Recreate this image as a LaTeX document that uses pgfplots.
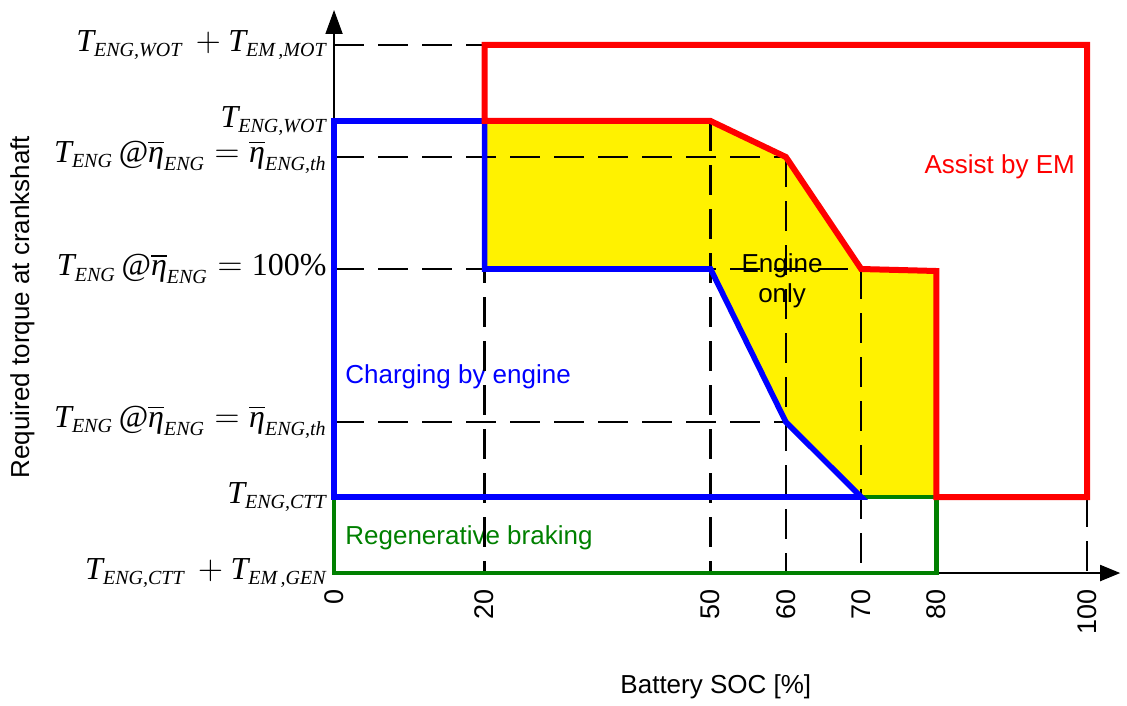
\documentclass[border=0pt]{standalone}
\usepackage{fontspec}
\setmainfont{Liberation Sans}
\newfontfamily\tnr{Liberation Serif}
\usepackage{amsmath}
\usepackage{pgfplots}
\pgfplotsset{compat=1.18}
\usetikzlibrary{arrows.meta}
\newcommand{\ti}[1]{\textit{#1}}
\newcommand{\sub}[1]{\text{\fontsize{10}{11}\selectfont\itshape #1}}
\definecolor{rgreen}{RGB}{0,128,0}
\begin{document}
\begin{tikzpicture}
\begin{axis}[
  x=3.765pt, y=0.5pt,
  xmin=0, xmax=104.4, ymin=0, ymax=563,
  axis lines=left,
  every outer x axis line/.append style={line width=0.9pt, -{Triangle[length=10pt,width=8pt]}},
  every outer y axis line/.append style={line width=0.9pt, -{Triangle[length=12pt,width=8.5pt]}},
  xtick={0,20,50,60,70,80,100},
  ytick={0,76,151,304,416,452,528},
  yticklabels={
    {$\ti{T}_{\sub{ENG,CTT}}\,+\ti{T}_{\sub{EM\,,GEN}}$},
    {$\ti{T}_{\sub{ENG,CTT}}$},
    {$\ti{T}_{\sub{ENG}}\,\text{@}\overline{\ti{η}}_{\sub{ENG}}=\overline{\ti{η}}_{\sub{ENG,th}}$},
    {$\ti{T}_{\sub{ENG}}\,\text{@}\overline{\ti{η}}_{\sub{ENG}}=\text{100\%}$},
    {$\ti{T}_{\sub{ENG}}\,\text{@}\overline{\ti{η}}_{\sub{ENG}}=\overline{\ti{η}}_{\sub{ENG,th}}$},
    {$\ti{T}_{\sub{ENG,WOT}}$},
    {$\ti{T}_{\sub{ENG,WOT}}\,+\ti{T}_{\sub{EM\,,MOT}}$}
  },
  major tick length=0pt,
  tick style={draw=none},
  xticklabel style={rotate=90, anchor=east, inner sep=0pt, font=\fontsize{13.5}{15}\selectfont},
  xticklabel shift=8pt,
  yticklabel style={anchor=east, inner sep=0pt, font=\fontsize{16}{18}\selectfont\tnr},
  yticklabel shift=3.5pt,
  /pgf/number format/assume math mode=true,
  clip=false,
  xlabel={Battery SOC [\%]},
  ylabel={Required torque at crankshaft},
  every axis x label/.style={at={(axis cs:50.7,-114)}, anchor=center, font=\fontsize{13}{15}\selectfont},
  every axis y label/.style={at={(axis cs:-41.4,266)}, rotate=90, anchor=center, font=\fontsize{13}{15}\selectfont},
]
% bounding box matching reference
\path (axis cs:-44.36,573) rectangle (axis cs:105.3,-131);

% engine-only region
\addplot[fill=yellow, draw=none] coordinates {(20,452) (50,452) (60,416) (70,304) (80,302) (80,76) (70,76) (60,151) (50,304) (20,304)} -- cycle;

% region labels
\node[text=red, font=\fontsize{13}{15}\selectfont] at (axis cs:88.4,406) {Assist by EM};
\node[text=black, align=center, font=\fontsize{13}{15}\selectfont] at (axis cs:59.5,292) {Engine\\only};
\node[text=blue, anchor=west, inner sep=0pt, font=\fontsize{13}{15}\selectfont] at (axis cs:1.45,196) {Charging by engine};
\node[text=rgreen, anchor=west, inner sep=0pt, font=\fontsize{13}{15}\selectfont] at (axis cs:1.45,35) {Regenerative braking};

% dashed guide lines
\pgfplotsset{guide/.style={black, line width=1.2pt, dash pattern=on 15pt off 7pt, mark=none}}
\addplot[guide] coordinates {(0,528) (20,528)};
\addplot[guide] coordinates {(0,416) (60,416)};
\addplot[guide] coordinates {(0,304) (70,304)};
\addplot[guide] coordinates {(0,151) (60,151)};
\addplot[guide] coordinates {(20,452) (20,0)};
\addplot[guide] coordinates {(50,452) (50,0)};
\addplot[guide] coordinates {(60,416) (60,0)};
\addplot[guide] coordinates {(70,304) (70,0)};
\addplot[guide] coordinates {(100,76) (100,0)};

% regenerative braking
\addplot[rgreen, line width=2.3pt, mark=none, line join=miter] coordinates {(70,76) (80,76) (80,0) (0,0) (0,76)};
% charging by engine
\addplot[blue, line width=2.8pt, mark=none, line join=miter] coordinates {(35,76) (0,76) (0,452) (20,452) (20,304) (50,304) (60,151) (70,76) (35,76)};
% assist by EM
\addplot[red, line width=3pt, mark=none, line join=miter] coordinates {(35,452) (20,452) (20,528) (100,528) (100,76) (80,76) (80,302) (70,304) (60,416) (50,452) (35,452)};
\end{axis}
\end{tikzpicture}
\end{document}
